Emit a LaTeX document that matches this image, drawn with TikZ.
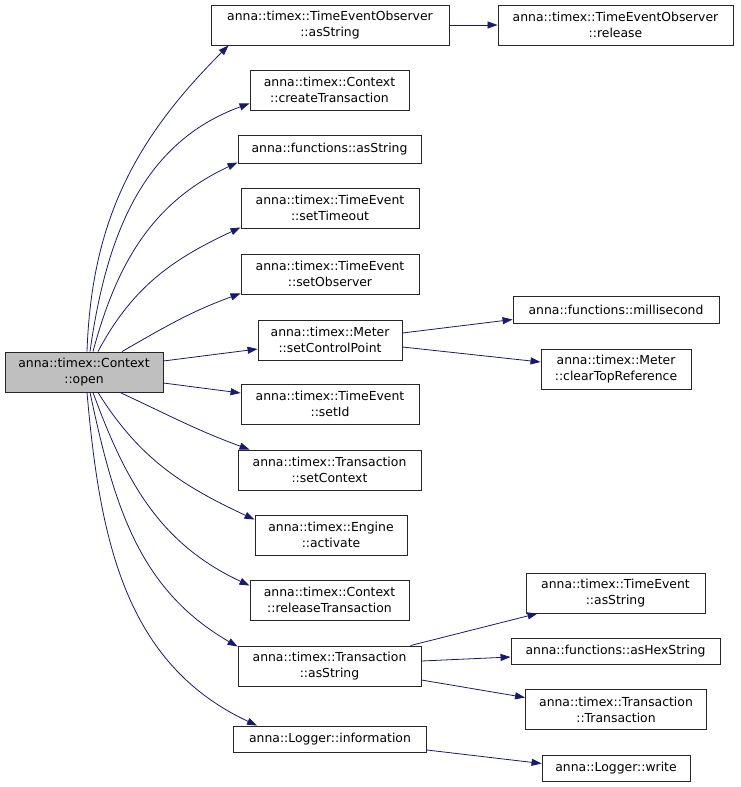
\documentclass[tikz,border=0pt]{standalone}
\usepackage{fontspec}
\setmainfont{DejaVu Sans}
\usetikzlibrary{arrows.meta}

\definecolor{edgeblue}{RGB}{25,25,112}
\definecolor{rootgray}{RGB}{191,191,191}

\begin{document}
\begin{tikzpicture}[
  x=1pt, y=-1pt,
  font=\fontsize{12.4}{16}\selectfont,
  fn/.style={draw=black!85, line width=0.9pt, fill=white, align=center, inner sep=0pt},
  root/.style={fn, fill=rootgray},
  call/.style={edgeblue, line width=0.8pt, -{Triangle[length=10pt, width=7pt]}}
]
  \useasboundingbox (0,0) rectangle (740,787);

  % Root function
  \node[root, minimum width=158pt, minimum height=40pt] (open) at (84,372) {anna::timex::Context\\::open};

  % Direct callees
  \node[fn, minimum width=238pt, minimum height=40pt] (teoAs) at (330,25) {anna::timex::TimeEventObserver\\::asString};
  \node[fn, minimum width=159pt, minimum height=40pt] (ct)    at (329.5,90) {anna::timex::Context\\::createTransaction};
  \node[fn, minimum width=183pt, minimum height=28pt] (fas)   at (329.5,149) {anna::functions::asString};
  \node[fn, minimum width=178pt, minimum height=40pt] (st)    at (330,208) {anna::timex::TimeEvent\\::setTimeout};
  \node[fn, minimum width=178pt, minimum height=40pt] (so)    at (330,274) {anna::timex::TimeEvent\\::setObserver};
  \node[fn, minimum width=144pt, minimum height=40pt] (scp)   at (330,340) {anna::timex::Meter\\::setControlPoint};
  \node[fn, minimum width=178pt, minimum height=40pt] (sid)   at (330,404) {anna::timex::TimeEvent\\::setId};
  \node[fn, minimum width=183pt, minimum height=40pt] (sc)    at (329.5,470) {anna::timex::Transaction\\::setContext};
  \node[fn, minimum width=152pt, minimum height=40pt] (act)   at (331,535) {anna::timex::Engine\\::activate};
  \node[fn, minimum width=159pt, minimum height=40pt] (rt)    at (329.5,600) {anna::timex::Context\\::releaseTransaction};
  \node[fn, minimum width=183pt, minimum height=40pt] (trAs)  at (329.5,666) {anna::timex::Transaction\\::asString};
  \node[fn, minimum width=193pt, minimum height=26pt] (info)  at (330,739) {anna::Logger::information};

  % Second level
  \node[fn, minimum width=235pt, minimum height=40pt] (release) at (615.5,25) {anna::timex::TimeEventObserver\\::release};
  \node[fn, minimum width=206pt, minimum height=27pt] (ms)      at (616,309.5) {anna::functions::millisecond};
  \node[fn, minimum width=150pt, minimum height=40pt] (clr)     at (616,369) {anna::timex::Meter\\::clearTopReference};
  \node[fn, minimum width=179pt, minimum height=40pt] (teAs)    at (615.5,593) {anna::timex::TimeEvent\\::asString};
  \node[fn, minimum width=209pt, minimum height=26pt] (hex)     at (615.5,651) {anna::functions::asHexString};
  \node[fn, minimum width=181pt, minimum height=40pt] (tr)      at (616,709.5) {anna::timex::Transaction\\::Transaction};
  \node[fn, minimum width=148pt, minimum height=26pt] (write)   at (616,768.5) {anna::Logger::write};

  % Calls from open, upwards
  \draw[call] ([xshift=3pt]open.north)  to[out=88,in=225] ([xshift=18pt]teoAs.south west);
  \draw[call] ([xshift=6pt]open.north)  to[out=82,in=200] ([yshift=7pt]ct.south west);
  \draw[call] ([xshift=9pt]open.north)  to[out=75,in=205] ([yshift=1pt]fas.south west);
  \draw[call] ([xshift=14pt]open.north) to[out=62,in=205] ([yshift=1pt]st.south west);
  \draw[call] ([xshift=38pt]open.north) to[out=30,in=200] ([yshift=1pt]so.south west);

  % Calls from open, sideways
  \draw[call] ([yshift=11pt]open.east)  -- ([yshift=-9pt]scp.west);
  \draw[call] ([yshift=-11pt]open.east) -- ([yshift=11pt]sid.west);

  % Calls from open, downwards
  \draw[call] ([xshift=36pt]open.south) to[out=-25,in=160] ([xshift=12pt]sc.north west);
  \draw[call] ([xshift=14pt]open.south) to[out=-58,in=155] ([yshift=-5pt]act.north west);
  \draw[call] ([xshift=9pt]open.south)  to[out=-70,in=155] ([yshift=-6pt]rt.north west);
  \draw[call] ([xshift=6pt]open.south)  to[out=-78,in=150] ([yshift=-1pt]trAs.north west);
  \draw[call] ([xshift=3pt]open.south)  to[out=-85,in=155] ([xshift=24pt]info.north west);

  % Second level calls
  \draw[call] (teoAs) -- (release);
  \draw[call] ([yshift=7pt]scp.east)  -- ([yshift=-10pt]ms.west);
  \draw[call] ([yshift=-7pt]scp.east) -- ([yshift=7pt]clr.west);
  \draw[call] ([xshift=-11pt]trAs.north east) -- ([xshift=12pt]teAs.south west);
  \draw[call] ([yshift=5pt]trAs.east)   -- ([yshift=-6pt]hex.west);
  \draw[call] ([yshift=-14pt]trAs.east) -- ([yshift=12pt]tr.west);
  \draw[call] ([yshift=-11pt]info.east) -- ([yshift=5pt]write.west);
\end{tikzpicture}
\end{document}
